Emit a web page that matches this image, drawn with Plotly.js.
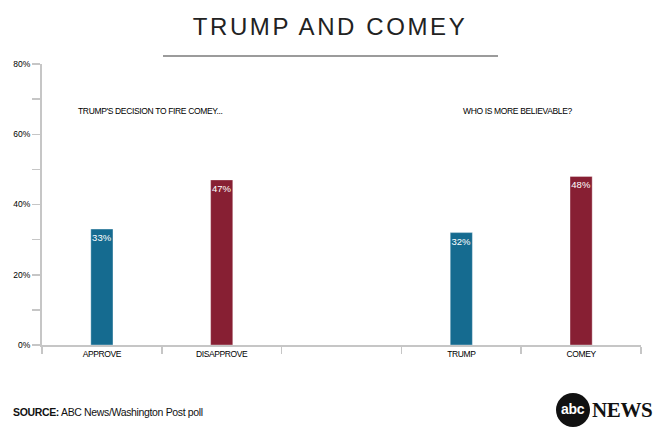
<!DOCTYPE html>
<html>
<head>
<meta charset="utf-8">
<script src="https://cdn.plot.ly/plotly-3.0.1.min.js"></script>
<style>
  html, body { margin: 0; padding: 0; background: #fff; }
  #chart { width: 660px; height: 431px; }
  .infolayer .gtitle { letter-spacing: 2.6px; }
  .annotation-text { letter-spacing: -0.35px; }
  .xtick text { letter-spacing: -0.4px; }
</style>
</head>
<body>
<div id="chart"></div>
<script>
// ---- data ----
var categories = ["APPROVE", "DISAPPROVE", " ", "TRUMP", "COMEY"];
var decisionCats = ["APPROVE", "DISAPPROVE"];
var decisionValues = [33, 47];
var believableCats = ["TRUMP", "COMEY"];
var believableValues = [32, 48];
var barColors = ["#156b90", "#871f33"];
var yTickVals = [0, 20, 40, 60, 80];
var yTickText = ["0%", "20%", "40%", "60%", "80%"];

// ---- layout helpers (pixel -> paper) ----
var W = 660, H = 431;
var M = { l: 42, r: 19, t: 64, b: 86 };
var PW = W - M.l - M.r, PH = H - M.t - M.b;
function px2x(px) { return (px - M.l) / PW; }
function px2y(py) { return (H - M.b - py) / PH; }

var font = "Liberation Sans, Arial, Helvetica, sans-serif";

function pctText(v) { return v.map(function (d) { return d + "%"; }); }

function barTrace(cats, vals) {
  return {
    type: "bar",
    x: cats,
    y: vals,
    text: pctText(vals),
    marker: { color: barColors, line: { color: "rgba(255,255,255,0.35)", width: 1 } },
    textposition: "inside",
    insidetextanchor: "end",
    textangle: 0,
    constraintext: "none",
    textfont: { color: "#ffffff", size: 9.5, family: font },
    hoverinfo: "none",
    cliponaxis: false
  };
}

var traces = [
  barTrace(decisionCats, decisionValues),
  barTrace(believableCats, believableValues)
];

var axisGray = "#c6c6c6";

var layout = {
  width: W,
  height: H,
  margin: M,
  paper_bgcolor: "#ffffff",
  plot_bgcolor: "#ffffff",
  showlegend: false,
  barmode: "overlay",
  bargap: 0.815,
  font: { family: font, color: "#111111", size: 9 },
  title: {
    text: "TRUMP AND COMEY",
    x: 0.5,
    xref: "container",
    xanchor: "center",
    y: 1 - 27 / H,
    yref: "container",
    yanchor: "middle",
    font: { family: font, size: 24, color: "#222222" }
  },
  xaxis: {
    type: "category",
    categoryorder: "array",
    categoryarray: categories,
    range: [-0.5, categories.length - 0.5],
    tickson: "boundaries",
    ticks: "outside",
    ticklen: 7,
    tickwidth: 1.5,
    tickcolor: axisGray,
    showline: true,
    linecolor: axisGray,
    linewidth: 2,
    showgrid: false,
    zeroline: false,
    tickfont: { family: font, size: 8.5, color: "#000000" },
    fixedrange: true
  },
  yaxis: {
    range: [0, 80],
    tickmode: "array",
    tickvals: yTickVals,
    ticktext: yTickText,
    ticks: "outside",
    ticklen: 8,
    tickwidth: 1.5,
    tickcolor: axisGray,
    minor: { dtick: 10, ticks: "outside", ticklen: 8, tickwidth: 1.5, tickcolor: axisGray, showgrid: false },
    showline: true,
    linecolor: axisGray,
    linewidth: 2,
    showgrid: false,
    zeroline: false,
    tickfont: { family: font, size: 8.5, color: "#000000" },
    fixedrange: true
  },
  shapes: [
    {
      type: "line", xref: "paper", yref: "paper",
      x0: px2x(163), x1: px2x(498), y0: px2y(56), y1: px2y(56),
      line: { color: "#7a7a7a", width: 1.5 }
    },
    {
      type: "circle", xref: "paper", yref: "paper",
      x0: px2x(556), x1: px2x(590), y0: px2y(427), y1: px2y(393),
      fillcolor: "#111111", line: { width: 0 }
    }
  ],
  annotations: [
    {
      text: "TRUMP'S DECISION TO FIRE COMEY...",
      xref: "paper", yref: "paper", x: px2x(76), y: px2y(111),
      xanchor: "left", yanchor: "middle", showarrow: false,
      font: { family: font, size: 8.5, color: "#000000" }
    },
    {
      text: "WHO IS MORE BELIEVABLE?",
      xref: "paper", yref: "paper", x: px2x(461), y: px2y(111),
      xanchor: "left", yanchor: "middle", showarrow: false,
      font: { family: font, size: 8.5, color: "#000000" }
    },
    {
      text: "<b>SOURCE:</b> ABC News/Washington Post poll",
      xref: "paper", yref: "paper", x: px2x(11), y: px2y(412),
      xanchor: "left", yanchor: "middle", showarrow: false,
      font: { family: font, size: 10.5, color: "#111111" }
    },
    {
      text: "<b>abc</b>",
      xref: "paper", yref: "paper", x: px2x(573), y: px2y(409),
      xanchor: "center", yanchor: "middle", showarrow: false,
      font: { family: font, size: 14, color: "#ffffff" }
    },
    {
      text: "<b>NEWS</b>",
      xref: "paper", yref: "paper", x: px2x(590), y: px2y(410),
      xanchor: "left", yanchor: "middle", showarrow: false,
      font: { family: "Liberation Serif, Times New Roman, serif", size: 21, color: "#111111" }
    }
  ]
};

Plotly.newPlot("chart", traces, layout, { staticPlot: true, displayModeBar: false });
</script>
</body>
</html>
